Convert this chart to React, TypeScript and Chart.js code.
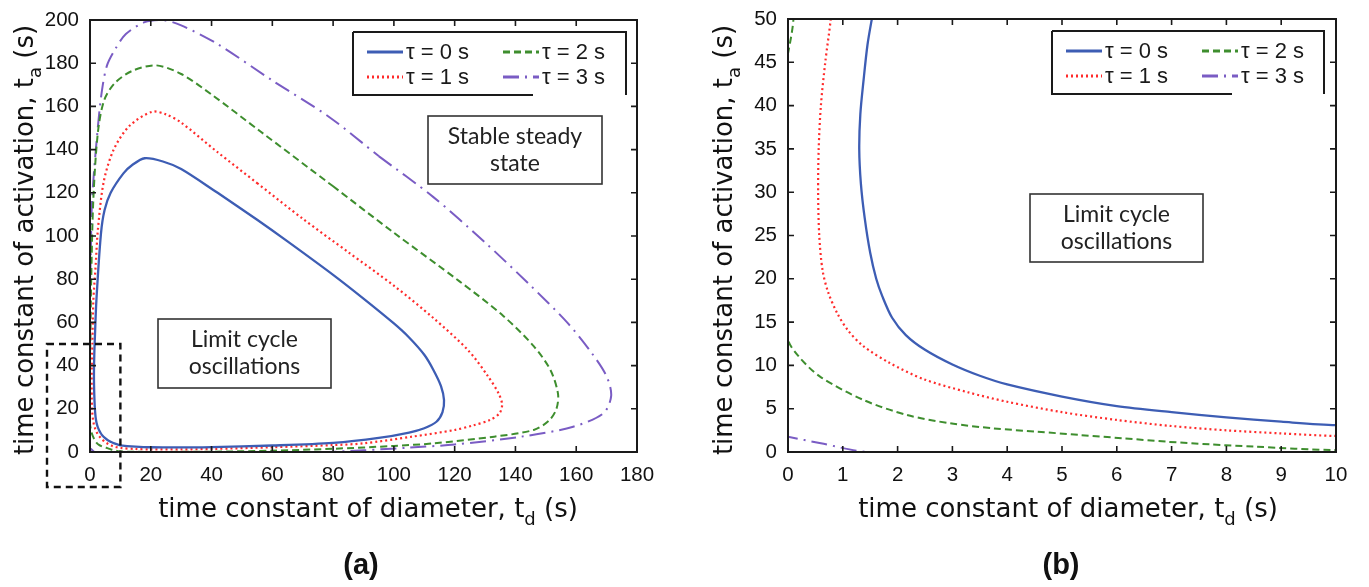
import React, { useEffect, useRef } from "react";
import { Chart, registerables } from "chart.js";
Chart.register(...registerables);

// ---- data ----
const SERIES_LABELS = ["τ = 0 s", "τ = 1 s", "τ = 2 s", "τ = 3 s"];

const TAU0_TD = [42, 55, 65, 80, 90, 100, 105, 110, 113, 115.5, 116.5, 116, 114, 110, 105, 95, 80, 60, 40, 30, 20, 15, 10, 9, 8, 7, 6, 5, 4, 3.5, 3, 2.5, 2.15, 1.9, 1.72, 1.61, 1.5, 1.4, 1.33, 1.3, 1.32, 1.38, 1.45, 1.53, 2.1, 3.6, 4.8, 6.8, 11, 14, 18, 24, 30, 42];
const TAU0_TA = [120, 107.5, 97.5, 82, 71, 59.5, 53, 45, 38, 30.5, 24, 18.5, 14, 11, 9, 6.5, 4.2, 3, 2.3, 2.1, 2.2, 2.5, 3.1, 3.5, 4.0, 4.6, 5.3, 6.4, 7.8, 8.8, 10.1, 11.8, 13.5, 15.5, 18, 20, 23, 27, 31, 35, 39, 43, 47, 50, 70, 101, 112, 120, 129, 133, 136, 134.5, 131, 120];

const TAU1_TD = [55, 70, 85, 100, 113, 124.5, 131, 134.5, 135.6, 134.8, 131.6, 126, 120, 106, 90, 80, 60, 40, 30, 20, 15, 10, 9, 8, 7, 6, 5, 4, 3.28, 2.48, 1.85, 1.38, 1.1, 0.9, 0.73, 0.63, 0.57, 0.55, 0.56, 0.6, 0.68, 0.78, 1.1, 1.85, 2.6, 4.5, 7.8, 13, 20.4, 25, 30, 41.8, 55];
const TAU1_TA = [124.5, 108, 92.5, 77, 62, 47, 35, 27, 22, 18, 14.8, 12.3, 10.2, 7.1, 4, 3.2, 2.2, 1.4, 1.2, 1.2, 1.4, 1.85, 2.15, 2.5, 3.0, 3.7, 4.6, 5.8, 6.9, 8.4, 10.3, 12.2, 14, 16, 18.5, 21, 25, 30, 35, 40, 45, 50, 70, 86, 103, 125, 140, 151, 157.5, 156.3, 152.5, 139, 124.5];

const TAU2_TD = [80, 100, 121.6, 136, 146, 151.5, 154, 153.5, 151, 146, 133, 113, 100, 80, 60, 40, 20, 10, 8.5, 7.7, 6.91, 6.12, 5.33, 4.54, 3.75, 2.96, 2.17, 1.38, 0.585, 0.2, 0, -0.3, -0.2, 0, 0.1, 0.4, 1.1, 2.6, 4.7, 8.3, 14, 21.8, 30, 40, 56, 80];
const TAU2_TA = [123, 101.5, 79, 63, 49, 38, 27, 20, 14.5, 10.2, 7.1, 4, 2.8, 1.5, 0.6, 0.15, 0.05, 0.23, 0.62, 0.88, 1.19, 1.58, 1.96, 2.35, 2.73, 3.31, 4.27, 6.0, 8.7, 11, 13, 25, 40, 46, 50, 80, 117, 148, 163, 171, 176.5, 179, 175, 165.5, 148.5, 123];

const TAU3_TD = [95, 113, 130, 145, 157, 165, 170, 171.5, 169, 159, 142, 120, 105, 90, 75, 50, 20, 5, 1.45, 0.6, 0, -0.5, -1, -1, 0.15, 0.7, 2.6, 4, 5.6, 8.3, 11.8, 18, 24, 30, 41.8, 60, 78.8, 95];
const TAU3_TA = [137, 118, 97, 77, 60, 46, 35, 26, 18, 11.7, 7.1, 3.5, 2, 0.8, -0.2, -1.2, -1.5, -0.8, 0, 1.0, 1.77, 2.4, 10, 40, 85, 117, 150.6, 168, 179, 186.5, 193.5, 199, 200, 197.5, 189, 172, 155, 137];

const LEFT_X_TICKS = [0, 20, 40, 60, 80, 100, 120, 140, 160, 180];
const LEFT_Y_TICKS = [0, 20, 40, 60, 80, 100, 120, 140, 160, 180, 200];
const RIGHT_X_TICKS = [0, 1, 2, 3, 4, 5, 6, 7, 8, 9, 10];
const RIGHT_Y_TICKS = [0, 5, 10, 15, 20, 25, 30, 35, 40, 45, 50];

const X_TITLE = ["time constant of diameter, t", "d", " (s)"];
const Y_TITLE = ["time constant of activation, t", "a", " (s)"];

// ---- styles ----
const STYLES = [
  { color: "#3d5db4", width: 2.3, dash: [] as number[] },
  { color: "#ff2b2b", width: 2.2, dash: [2, 3] },
  { color: "#3e8e2e", width: 2, dash: [7, 4] },
  { color: "#7a5cc4", width: 2, dash: [16, 6, 2, 6] },
];

const SERIES = [
  [TAU0_TD, TAU0_TA],
  [TAU1_TD, TAU1_TA],
  [TAU2_TD, TAU2_TA],
  [TAU3_TD, TAU3_TA],
];

function makeDatasets() {
  return SERIES.map(([xs, ys], i) => ({
    label: SERIES_LABELS[i],
    data: xs.map((x, k) => ({ x, y: ys[k] })),
    borderColor: STYLES[i].color,
    borderWidth: STYLES[i].width,
    borderDash: STYLES[i].dash,
    pointRadius: 0,
    tension: 0.3,
    fill: false,
  }));
}

function drawSubText(ctx: CanvasRenderingContext2D, parts: string[], cx: number, cy: number, size: number, rotate: boolean) {
  ctx.save();
  ctx.translate(cx, cy);
  if (rotate) ctx.rotate(-Math.PI / 2);
  const mainFont = `${size}px "DejaVu Sans"`;
  const subFont = `${Math.round(size * 0.68)}px "DejaVu Sans"`;
  ctx.font = mainFont;
  const w0 = ctx.measureText(parts[0]).width;
  const w2 = ctx.measureText(parts[2]).width;
  ctx.font = subFont;
  const w1 = ctx.measureText(parts[1]).width;
  const total = w0 + w1 + w2;
  let x = -total / 2;
  ctx.fillStyle = "#111";
  ctx.textBaseline = "alphabetic";
  ctx.textAlign = "left";
  const base = size * 0.36;
  ctx.font = mainFont;
  ctx.fillText(parts[0], x, base);
  x += w0;
  ctx.font = subFont;
  ctx.fillText(parts[1], x, base + size * 0.28);
  x += w1;
  ctx.font = mainFont;
  ctx.fillText(parts[2], x, base);
  ctx.restore();
}

type PanelCfg = {
  legendLeft: number;
  legendTop: number;
  legendW: number;
  boxes: { x: number; y: number; w: number; h: number; lines: string[] }[];
  xTitleX: number;
  yTitleX: number;
  panelLabel: string;
  panelLabelX: number;
  zoomBox: boolean;
};

function makeOverlay(cfg: PanelCfg) {
  return {
    id: "overlay",
    afterDraw(chart: any) {
      const ctx: CanvasRenderingContext2D = chart.ctx;
      const a = chart.chartArea;
      const xs = chart.scales.x;
      const ys = chart.scales.y;
      ctx.save();
      // frame
      ctx.strokeStyle = "#1a1a1a";
      ctx.lineWidth = 2;
      ctx.setLineDash([]);
      ctx.strokeRect(a.left, a.top, a.right - a.left, a.bottom - a.top);
      // inward ticks
      ctx.lineWidth = 1.6;
      const tl = 6;
      xs.ticks.forEach((t: any) => {
        const px = xs.getPixelForValue(t.value);
        ctx.beginPath();
        ctx.moveTo(px, a.bottom);
        ctx.lineTo(px, a.bottom - tl);
        ctx.moveTo(px, a.top);
        ctx.lineTo(px, a.top + tl);
        ctx.stroke();
      });
      ys.ticks.forEach((t: any) => {
        const py = ys.getPixelForValue(t.value);
        ctx.beginPath();
        ctx.moveTo(a.left, py);
        ctx.lineTo(a.left + tl, py);
        ctx.moveTo(a.right, py);
        ctx.lineTo(a.right - tl, py);
        ctx.stroke();
      });
      // legend
      const L = cfg.legendLeft;
      const T = cfg.legendTop;
      const W = cfg.legendW;
      const H = 63;
      ctx.fillStyle = "#fff";
      ctx.fillRect(L, T, W, H);
      ctx.strokeStyle = "#1a1a1a";
      ctx.lineWidth = 2;
      ctx.beginPath();
      ctx.moveTo(L, T);
      ctx.lineTo(L + W, T);
      ctx.lineTo(L + W, T + H);
      ctx.moveTo(L, T);
      ctx.lineTo(L, T + H);
      ctx.lineTo(L + 180, T + H);
      ctx.stroke();
      const pos = [
        [L + 14, T + 20],
        [L + 14, T + 45],
        [L + 150, T + 20],
        [L + 150, T + 45],
      ];
      SERIES_LABELS.forEach((lab, i) => {
        const [px, py] = pos[i];
        const st = STYLES[i];
        ctx.strokeStyle = st.color;
        ctx.lineWidth = 2.8;
        ctx.setLineDash(st.dash);
        ctx.beginPath();
        ctx.moveTo(px, py);
        ctx.lineTo(px + 36, py);
        ctx.stroke();
        ctx.setLineDash([]);
        ctx.fillStyle = "#1a1a1a";
        ctx.font = '22px "Liberation Sans"';
        ctx.textAlign = "left";
        ctx.textBaseline = "middle";
        ctx.fillText(lab, px + 39, py + 1);
      });
      // annotation boxes
      cfg.boxes.forEach((b) => {
        ctx.fillStyle = "#fff";
        ctx.fillRect(b.x, b.y, b.w, b.h);
        ctx.strokeStyle = "#333";
        ctx.lineWidth = 1.6;
        ctx.setLineDash([]);
        ctx.strokeRect(b.x, b.y, b.w, b.h);
        ctx.fillStyle = "#222";
        ctx.font = '23px "Lato"';
        ctx.textAlign = "center";
        ctx.textBaseline = "middle";
        b.lines.forEach((ln, k) => {
          ctx.fillText(ln, b.x + b.w / 2, b.y + 21 + k * 27);
        });
      });
      // zoom box (dashed)
      if (cfg.zoomBox) {
        const rx = xs.getPixelForValue(10);
        const ty = ys.getPixelForValue(50);
        ctx.strokeStyle = "#111";
        ctx.lineWidth = 2.4;
        ctx.setLineDash([7, 5]);
        ctx.strokeRect(a.left - 43, ty, rx - (a.left - 43), a.bottom + 35 - ty);
        ctx.setLineDash([]);
      }
      // axis titles
      drawSubText(ctx, X_TITLE, cfg.xTitleX, 508, 26, false);
      drawSubText(ctx, Y_TITLE, cfg.yTitleX, 240, 26, true);
      // panel label
      ctx.fillStyle = "#111";
      ctx.font = 'bold 29px "Liberation Sans"';
      ctx.textAlign = "center";
      ctx.textBaseline = "middle";
      ctx.fillText(cfg.panelLabel, cfg.panelLabelX, 566);
      ctx.restore();
    },
  };
}

function makeConfig(opts: {
  xMax: number; yMax: number; xTicks: number[]; yTicks: number[];
  yWidth: number; padRight: number; padTop: number; overlay: any;
}) {
  const tickFont = { family: '"Liberation Sans"', size: 20.5 };
  return {
    type: "line" as const,
    data: { datasets: makeDatasets() },
    options: {
      responsive: false,
      animation: false as const,
      layout: { padding: { left: 0, right: opts.padRight, top: opts.padTop, bottom: 0 } },
      plugins: { legend: { display: false }, tooltip: { enabled: false } },
      scales: {
        x: {
          type: "linear" as const,
          min: 0,
          max: opts.xMax,
          afterBuildTicks: (s: any) => { s.ticks = opts.xTicks.map((v) => ({ value: v })); },
          ticks: { font: tickFont, color: "#111", padding: 3, maxRotation: 0, autoSkip: false },
          grid: { display: false },
          border: { display: false },
          afterFit: (s: any) => { s.height = 135; },
        },
        y: {
          type: "linear" as const,
          min: 0,
          max: opts.yMax,
          afterBuildTicks: (s: any) => { s.ticks = opts.yTicks.map((v) => ({ value: v })); },
          ticks: { font: tickFont, color: "#111", padding: 3, autoSkip: false },
          grid: { display: false },
          border: { display: false },
          afterFit: (s: any) => { s.width = opts.yWidth; },
        },
      },
    },
    plugins: [opts.overlay],
  };
}

export default function App() {
  const leftRef = useRef<HTMLCanvasElement>(null);
  const rightRef = useRef<HTMLCanvasElement>(null);

  useEffect(() => {
    const left = new Chart(leftRef.current as HTMLCanvasElement, makeConfig({
      xMax: 180, yMax: 200, xTicks: LEFT_X_TICKS, yTicks: LEFT_Y_TICKS,
      yWidth: 90, padRight: 43, padTop: 20,
      overlay: makeOverlay({
        legendLeft: 353, legendTop: 32, legendW: 273,
        boxes: [
          { x: 428, y: 116, w: 174, h: 68, lines: ["Stable steady", "state"] },
          { x: 158, y: 319, w: 173, h: 69, lines: ["Limit cycle", "oscillations"] },
        ],
        xTitleX: 368, yTitleX: 24, panelLabel: "(a)", panelLabelX: 361, zoomBox: true,
      }),
    }) as any);
    const right = new Chart(rightRef.current as HTMLCanvasElement, makeConfig({
      xMax: 10, yMax: 50, xTicks: RIGHT_X_TICKS, yTicks: RIGHT_Y_TICKS,
      yWidth: 98, padRight: 33, padTop: 19,
      overlay: makeOverlay({
        legendLeft: 362, legendTop: 31, legendW: 272,
        boxes: [
          { x: 340, y: 194, w: 173, h: 68, lines: ["Limit cycle", "oscillations"] },
        ],
        xTitleX: 378, yTitleX: 33, panelLabel: "(b)", panelLabelX: 371, zoomBox: false,
      }),
    }) as any);
    return () => {
      left.destroy();
      right.destroy();
    };
  }, []);

  return (
    <div style={{ position: "fixed", left: 0, top: 0, width: 1369, height: 587, background: "#fff" }}>
      <canvas ref={leftRef} width={680} height={587} style={{ position: "absolute", left: 0, top: 0, width: 680, height: 587 }} />
      <canvas ref={rightRef} width={679} height={587} style={{ position: "absolute", left: 690, top: 0, width: 679, height: 587 }} />
    </div>
  );
}
